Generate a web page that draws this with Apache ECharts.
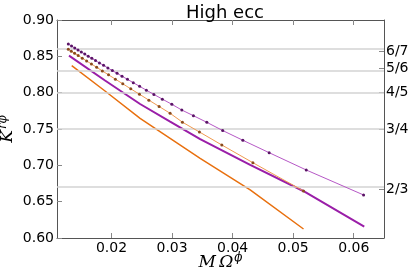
<!DOCTYPE html>
<html>
<head>
<meta charset="utf-8">
<script src="https://cdn.jsdelivr.net/npm/echarts@6/dist/echarts.min.js"></script>
<style>
  html, body { margin: 0; padding: 0; background: #fff; }
  #chart { width: 411px; height: 278px; }
</style>
</head>
<body>
<div id="chart"></div>
<script>
// ---- data ----
const topX = [0.01287, 0.01340, 0.01393, 0.01447, 0.01502, 0.01558, 0.01616, 0.01675, 0.01736, 0.01801, 0.01869, 0.01940, 0.02014, 0.02092, 0.02174, 0.02264, 0.02360, 0.02464, 0.02576, 0.02700, 0.02840, 0.02996, 0.03161, 0.03353, 0.03574, 0.03836, 0.04169, 0.04604, 0.05216, 0.06163];
const topY = [0.8670, 0.8642, 0.8615, 0.8587, 0.8560, 0.8531, 0.8502, 0.8472, 0.8441, 0.8409, 0.8376, 0.8340, 0.8304, 0.8266, 0.8226, 0.8183, 0.8137, 0.8087, 0.8034, 0.7976, 0.7911, 0.7840, 0.7761, 0.7683, 0.7592, 0.7479, 0.7345, 0.7174, 0.6936, 0.6592];

const dotX = [0.01287, 0.01336, 0.01391, 0.01450, 0.01517, 0.01589, 0.01669, 0.01755, 0.01849, 0.01951, 0.02064, 0.02186, 0.02318, 0.02462, 0.02617, 0.02786, 0.02968, 0.03171, 0.03452, 0.03822, 0.04335, 0.05171];
const dotY = [0.8597, 0.8570, 0.8541, 0.8510, 0.8475, 0.8436, 0.8394, 0.8349, 0.8299, 0.8245, 0.8186, 0.8122, 0.8053, 0.7978, 0.7897, 0.7810, 0.7716, 0.7594, 0.7459, 0.7280, 0.7036, 0.6647];

const purpleX = [0.01298, 0.01893, 0.02472, 0.02968, 0.03464, 0.04290, 0.05166, 0.06174];
const purpleY = [0.8509, 0.8167, 0.7844, 0.7601, 0.7362, 0.7005, 0.6647, 0.6156];

const orangeX = [0.01343, 0.01893, 0.02472, 0.02968, 0.03464, 0.04290, 0.05171];
const orangeY = [0.8371, 0.8023, 0.7647, 0.7371, 0.7097, 0.6661, 0.6124];

const xTicks = [0.02, 0.03, 0.04, 0.05, 0.06];
const yTicks = [0.60, 0.65, 0.70, 0.75, 0.80, 0.85, 0.90];
const fracValues = [6/7, 5/6, 4/5, 3/4, 2/3];
const fracLabels = ['6/7', '5/6', '4/5', '3/4', '2/3'];

const title = 'High ecc';

// ---- build ----
const zip = (xs, ys) => xs.map((x, i) => [x, ys[i]]);
const fracLabel = v => {
  for (let i = 0; i < fracValues.length; i++) {
    if (Math.abs(fracValues[i] - v) < 1e-6) return fracLabels[i];
  }
  return '';
};

const axisLineStyle = { color: '#555', width: 1 };
const tickStyle = { color: '#888', width: 1 };
const font = 'DejaVu Sans';

const chart = echarts.init(document.getElementById('chart'), null, { renderer: 'canvas' });
chart.setOption({
  animation: false,
  backgroundColor: '#fff',
  title: {
    text: title,
    left: 220, top: -1,
    textAlign: 'center',
    textStyle: { fontFamily: font, fontWeight: 'normal', fontSize: 18, color: '#000' }
  },
  grid: { left: 57, right: 27, top: 20, bottom: 40, containLabel: false, outerBoundsMode: 'none' },
  xAxis: [
    {
      type: 'value', position: 'bottom', min: 0.011, max: 0.065,
      axisLine: { show: true, lineStyle: axisLineStyle },
      axisTick: { show: true, inside: true, length: 5, lineStyle: tickStyle, customValues: xTicks },
      axisLabel: { customValues: xTicks, formatter: v => v.toFixed(2), fontFamily: font, fontSize: 14, color: '#000', margin: 3 },
      splitLine: { show: false },
      name: '{m|M\u2009Ω}{s|ϕ}',
      nameLocation: 'middle', nameGap: 14, nameMoveOverlap: false,
      nameTextStyle: {
        rich: {
          m: { fontFamily: 'DejaVu Serif', fontStyle: 'italic', fontSize: 17, color: '#000' },
          s: { fontFamily: 'DejaVu Serif', fontStyle: 'italic', fontSize: 12, color: '#000', padding: [0, 0, 10, 1] }
        }
      }
    },
    {
      type: 'value', position: 'top', min: 0.011, max: 0.065,
      axisLine: { show: true, lineStyle: axisLineStyle },
      axisTick: { show: true, inside: true, length: 5, lineStyle: tickStyle, customValues: xTicks },
      axisLabel: { show: false },
      splitLine: { show: false }
    }
  ],
  yAxis: [
    {
      type: 'value', position: 'left', min: 0.6, max: 0.9,
      axisLine: { show: true, lineStyle: axisLineStyle },
      axisTick: { show: true, inside: true, length: 5, lineStyle: tickStyle, customValues: yTicks },
      axisLabel: { customValues: yTicks, formatter: v => v.toFixed(2), fontFamily: font, fontSize: 14, color: '#000', margin: 3 },
      splitLine: { show: false },
      name: '{k|K}{s|rϕ}',
      nameLocation: 'middle', nameGap: 38, nameRotate: 90, nameMoveOverlap: false,
      nameTextStyle: {
        rich: {
          k: { fontFamily: 'DejaVu Serif', fontStyle: 'italic', fontSize: 17, color: '#000' },
          s: { fontFamily: 'DejaVu Serif', fontStyle: 'italic', fontSize: 12, color: '#000', padding: [0, 0, 10, 1] }
        }
      }
    },
    {
      type: 'value', position: 'right', min: 0.6, max: 0.9,
      axisLine: { show: true, lineStyle: axisLineStyle },
      axisTick: { show: true, inside: true, length: 5, lineStyle: tickStyle, customValues: fracValues },
      axisLabel: { customValues: fracValues, formatter: v => fracLabel(v), fontFamily: font, fontSize: 14, color: '#000', margin: 2 },
      splitLine: { show: false }
    }
  ],
  series: [
    {
      type: 'line', name: 'fractions', data: [], xAxisIndex: 0, yAxisIndex: 0,
      markLine: {
        silent: true, symbol: 'none', label: { show: false },
        lineStyle: { color: '#d3d3d3', width: 1.5, type: 'solid' },
        data: fracValues.map(v => ({ yAxis: v }))
      }
    },
    {
      type: 'line', name: 'orange', data: zip(orangeX, orangeY),
      symbol: 'none', lineStyle: { color: '#e8700f', width: 1.5 }, z: 3
    },
    {
      type: 'line', name: 'purple', data: zip(purpleX, purpleY),
      symbol: 'none', lineStyle: { color: '#9a1ea8', width: 2 }, z: 4
    },
    {
      type: 'line', name: 'orangeDots', data: zip(dotX, dotY),
      symbol: 'circle', symbolSize: 3,
      lineStyle: { color: '#f09a50', width: 1 },
      itemStyle: { color: '#8a4a1c' }, z: 5
    },
    {
      type: 'line', name: 'purpleDots', data: zip(topX, topY),
      symbol: 'circle', symbolSize: 3,
      lineStyle: { color: '#b658c6', width: 1 },
      itemStyle: { color: '#5a1466' }, z: 6
    }
  ]
});
</script>
</body>
</html>
